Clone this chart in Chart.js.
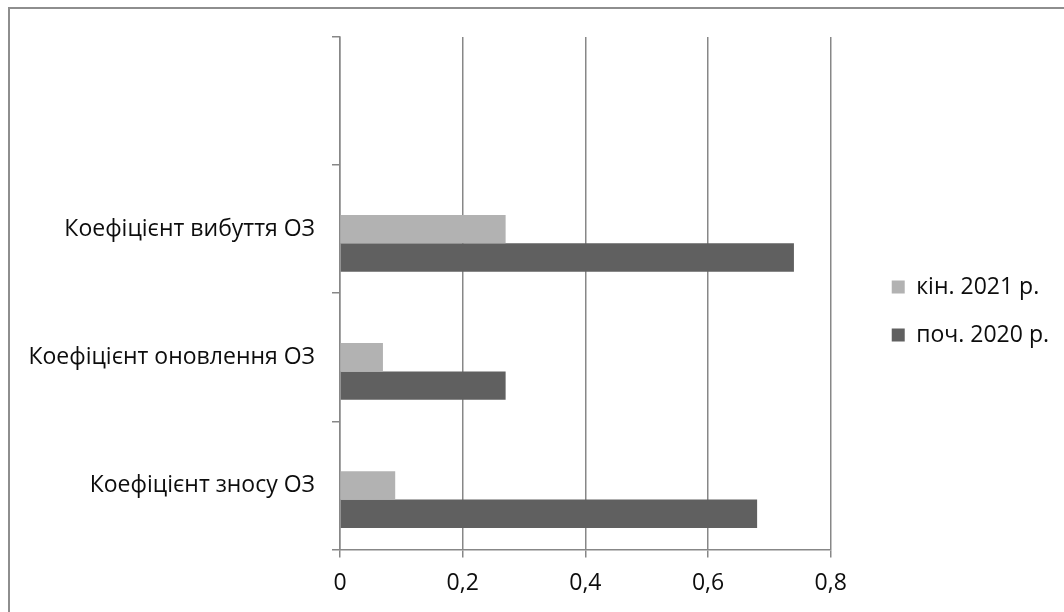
<!DOCTYPE html>
<html lang="uk">
<head>
<meta charset="utf-8">
<title>Коефіцієнти стану основних засобів</title>
<script src="https://cdn.jsdelivr.net/npm/chart.js@4.4.1/dist/chart.umd.min.js"></script>
<style>
  html, body { margin: 0; padding: 0; background: #ffffff; }
  #wrap { position: relative; width: 1064px; height: 612px; overflow: hidden; }
  #frame {
    position: absolute; left: 8px; top: 7px; width: 1100px; height: 700px;
    border-left: 2px solid #8e8e8e; border-top: 2px solid #8e8e8e;
    pointer-events: none;
  }
  canvas { position: absolute; left: 0; top: 0; }
</style>
</head>
<body>
<div id="wrap">
  <canvas id="chart" width="1064" height="612"></canvas>
  <div id="frame"></div>
</div>
<script>
// Categories, top to bottom (the first row is an empty slot)
const categories = ['', 'Коефіцієнт вибуття ОЗ', 'Коефіцієнт оновлення ОЗ', 'Коефіцієнт зносу ОЗ'];

// Series values
const spareSeries = [null, null, null, null];      // empty series that keeps its slot in each group
const end2021 = [null, 0.27, 0.07, 0.09];          // кін. 2021 р.
const start2020 = [null, 0.74, 0.27, 0.68];        // поч. 2020 р.

// Series names
const seriesNames = ['', 'кін. 2021 р.', 'поч. 2020 р.'];

// Value axis ticks
const xTicks = [0, 0.2, 0.4, 0.6, 0.8];

const FONT = "'Open Sans', 'DejaVu Sans', sans-serif";
const GRID = '#878787';
const TEXT = '#0d0d0d';

const fmt = v => String(+Number(v).toFixed(1)).replace('.', ',');

// Keeps the legend a fixed distance to the right of the plot and centred beside it
const legendPlacement = {
  id: 'legendPlacement',
  afterLayout(chart) {
    const lg = chart.legend;
    if (!lg) return;
    const dx = chart.chartArea.right + 36 - lg.left;
    const dy = -12;
    lg.left += dx; lg.right += dx;
    lg.top += dy; lg.bottom += dy;
  }
};

new Chart(document.getElementById('chart'), {
  type: 'bar',
  data: {
    labels: categories,
    datasets: [
      { label: seriesNames[0], data: spareSeries, backgroundColor: '#ffffff' },
      { label: seriesNames[1], data: end2021, backgroundColor: '#b2b2b2' },
      { label: seriesNames[2], data: start2020, backgroundColor: '#606060' }
    ]
  },
  plugins: [legendPlacement],
  options: {
    indexAxis: 'y',
    responsive: false,
    animation: false,
    devicePixelRatio: 1,
    datasets: {
      bar: { categoryPercentage: 0.665, barPercentage: 1, borderWidth: 0 }
    },
    layout: { padding: { top: 37, right: 41, bottom: 3, left: 0 } },
    plugins: {
      tooltip: { enabled: false },
      legend: {
        position: 'right',
        align: 'center',
        labels: {
          filter: item => item.text !== '',
          boxWidth: 13,
          boxHeight: 13,
          padding: 25,
          color: TEXT,
          font: { family: FONT, size: 23 }
        }
      }
    },
    scales: {
      x: {
        type: 'linear',
        position: 'bottom',
        min: xTicks[0],
        max: xTicks[xTicks.length - 1],
        afterBuildTicks: s => { s.ticks = xTicks.map(v => ({ value: v })); },
        grid: { color: GRID, lineWidth: 1.5, tickLength: 8, drawTicks: true },
        border: { display: true, color: GRID, width: 1.5 },
        ticks: {
          padding: 12,
          color: TEXT,
          font: { family: FONT, size: 23 },
          callback: v => fmt(v)
        }
      },
      y: {
        type: 'category',
        position: 'left',
        offset: true,
        afterFit: s => { s.width = 340; },
        grid: { offset: true, drawOnChartArea: false, drawTicks: true, tickLength: 8, color: GRID, lineWidth: 1.5 },
        border: { display: true, color: GRID, width: 1.5 },
        ticks: {
          autoSkip: false,
          padding: 17,
          color: TEXT,
          font: { family: FONT, size: 23 }
        }
      }
    }
  }
});
</script>
</body>
</html>
